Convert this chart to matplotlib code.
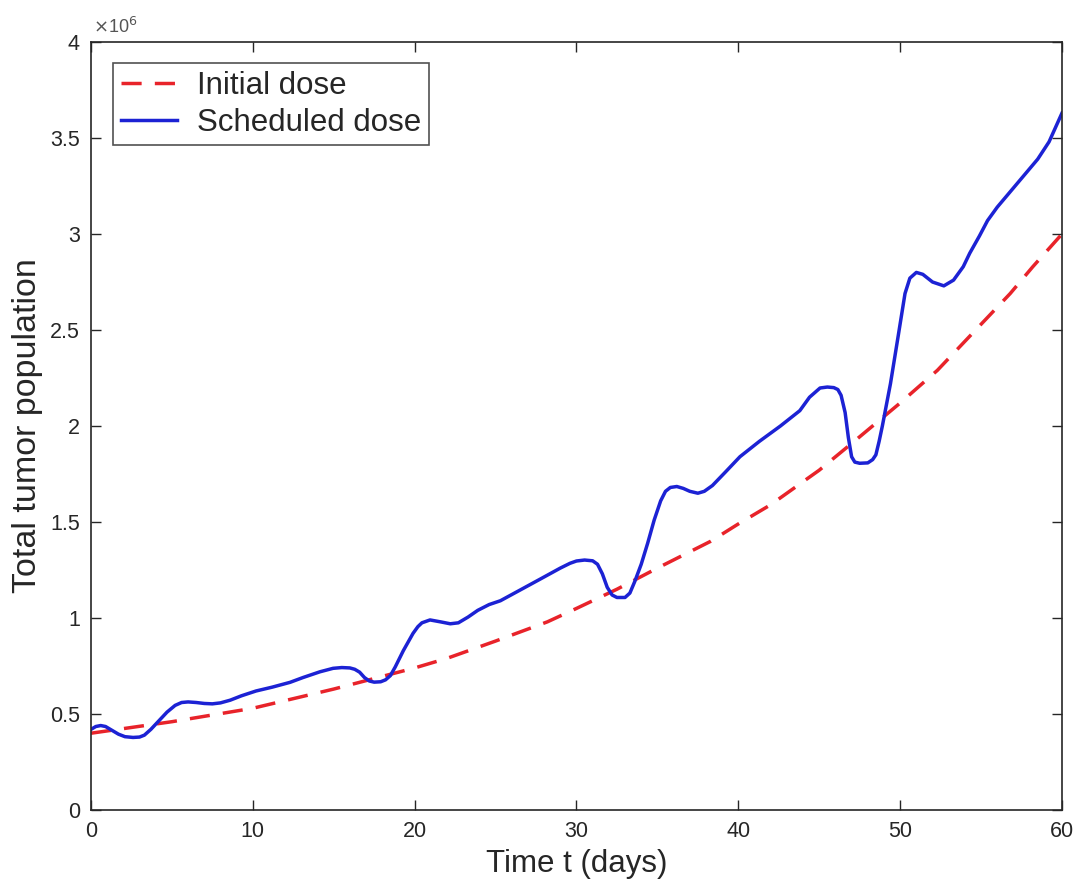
import matplotlib
matplotlib.use("Agg")
import matplotlib.pyplot as plt
from matplotlib.ticker import FuncFormatter, MultipleLocator

# ---- data (population values in cells) ----
t_initial = [0, 5, 10, 13.5, 15, 20, 22, 24, 25, 28.2, 30, 32.5, 35, 38.3, 40, 42,
             45, 47.3, 50, 52.3, 55, 56.8, 58.2, 60]
pop_initial = [0.40e6, 0.46e6, 0.53e6, 0.60e6, 0.63e6, 0.74e6, 0.79e6, 0.85e6, 0.88e6,
               0.98e6, 1.05e6, 1.15e6, 1.26e6, 1.40e6, 1.49e6, 1.59e6, 1.77e6, 1.93e6,
               2.12e6, 2.29e6, 2.53e6, 2.69e6, 2.83e6, 3.00e6]

t_sched = [0, 0.3, 0.6, 0.9, 1.3, 1.7, 2.1, 2.6, 3.0, 3.3, 3.7, 4.2, 4.7, 5.2, 5.6, 6.0,
           6.5, 7.0, 7.5, 8.0, 8.6, 9.3, 10.2, 11.2, 12.3, 13.1, 14.15, 14.96, 15.5, 16.0,
           16.3, 16.6, 16.9, 17.2, 17.5, 17.9, 18.2, 18.5, 18.8, 19.3, 19.9, 20.2, 20.45,
           20.95, 21.6, 22.2, 22.7, 23.3, 23.9, 24.6, 25.3, 26.5, 27.7, 29.0, 29.6, 30.0,
           30.5, 31.0, 31.3, 31.6, 31.9, 32.2, 32.5, 33.0, 33.3, 33.6, 34.0, 34.4, 34.8,
           35.2, 35.5, 35.8, 36.2, 36.6, 37.0, 37.5, 37.9, 38.4, 39.2, 40.1, 41.3, 42.6,
           43.8, 44.4, 45.05, 45.5, 45.9, 46.15, 46.35, 46.6, 46.8, 47.0, 47.2, 47.5, 48.0,
           48.3, 48.5, 48.7, 48.9, 49.4, 49.9, 50.3, 50.6, 51.0, 51.4, 52.0, 52.7, 53.3,
           53.9, 54.3, 54.9, 55.4, 56.0, 56.4, 57.0, 57.7, 58.5, 59.2, 60]
pop_sched = [0.42e6, 0.435e6, 0.44e6, 0.435e6, 0.415e6, 0.395e6, 0.382e6, 0.378e6, 0.38e6,
             0.39e6, 0.42e6, 0.465e6, 0.51e6, 0.545e6, 0.56e6, 0.563e6, 0.56e6, 0.555e6,
             0.553e6, 0.558e6, 0.572e6, 0.595e6, 0.62e6, 0.64e6, 0.665e6, 0.69e6, 0.72e6,
             0.738e6, 0.742e6, 0.74e6, 0.733e6, 0.718e6, 0.69e6, 0.672e6, 0.666e6, 0.668e6,
             0.678e6, 0.70e6, 0.745e6, 0.83e6, 0.92e6, 0.955e6, 0.975e6, 0.99e6, 0.98e6,
             0.97e6, 0.975e6, 1.005e6, 1.04e6, 1.07e6, 1.09e6, 1.145e6, 1.20e6, 1.26e6,
             1.285e6, 1.297e6, 1.302e6, 1.298e6, 1.28e6, 1.23e6, 1.16e6, 1.12e6, 1.107e6,
             1.107e6, 1.13e6, 1.19e6, 1.28e6, 1.39e6, 1.51e6, 1.61e6, 1.66e6, 1.68e6,
             1.685e6, 1.675e6, 1.66e6, 1.65e6, 1.66e6, 1.69e6, 1.76e6, 1.84e6, 1.92e6,
             2.00e6, 2.08e6, 2.15e6, 2.198e6, 2.203e6, 2.20e6, 2.19e6, 2.16e6, 2.07e6,
             1.94e6, 1.84e6, 1.812e6, 1.806e6, 1.808e6, 1.825e6, 1.85e6, 1.92e6, 2.00e6,
             2.22e6, 2.48e6, 2.69e6, 2.77e6, 2.80e6, 2.79e6, 2.75e6, 2.73e6, 2.76e6,
             2.83e6, 2.90e6, 2.99e6, 3.07e6, 3.14e6, 3.18e6, 3.24e6, 3.31e6, 3.39e6,
             3.48e6, 3.63e6]

labels = ["Initial dose", "Scheduled dose"]
x_label = "Time t (days)"
y_label = "Total tumor population"

# ---- style ----
plt.rcParams['font.family'] = ['Liberation Sans', 'DejaVu Sans']
axcol = '#262626'

fig = plt.figure(figsize=(10.83, 8.92), dpi=100)
ax = fig.add_axes([0.084, 0.0919, 0.8966, 0.861])

ax.plot(t_initial, pop_initial, color='#e8232a', lw=2.5, dashes=(5.8, 3.8),
        label=labels[0])
ax.plot(t_sched, pop_sched, color='#1c22d4', lw=2.5, solid_joinstyle='round',
        label=labels[1])

ax.set_xlim(0, 60)
ax.set_ylim(0, 4e6)
ax.xaxis.set_major_locator(MultipleLocator(10))
ax.yaxis.set_major_locator(MultipleLocator(0.5e6))
ax.yaxis.set_major_formatter(FuncFormatter(lambda v, p: f"{v/1e6:g}"))

ax.tick_params(direction='in', length=7, width=1, top=True, right=True,
               labelsize=15.5, colors=axcol, pad=8)
for s in ax.spines.values():
    s.set_color(axcol)
    s.set_linewidth(1.2)

ax.set_xlabel(x_label, fontsize=22.5, color=axcol, labelpad=5)
ax.set_ylabel(y_label, fontsize=24.5, color=axcol, labelpad=5)

ax.text(0.002, 1.006, r"$\times$10$^6$", transform=ax.transAxes, fontsize=13,
        color='#555555', ha='left', va='bottom')

leg = ax.legend(loc='upper left', bbox_to_anchor=(0.0227, 0.9727), borderaxespad=0,
                fontsize=22.5, frameon=True, fancybox=False, handlelength=1.8,
                handletextpad=0.65, borderpad=0.25, labelspacing=0.22)
leg.get_frame().set_edgecolor(axcol)
leg.get_frame().set_linewidth(1.2)
for txt in leg.get_texts():
    txt.set_color(axcol)

fig.savefig("out.png", dpi=100)
